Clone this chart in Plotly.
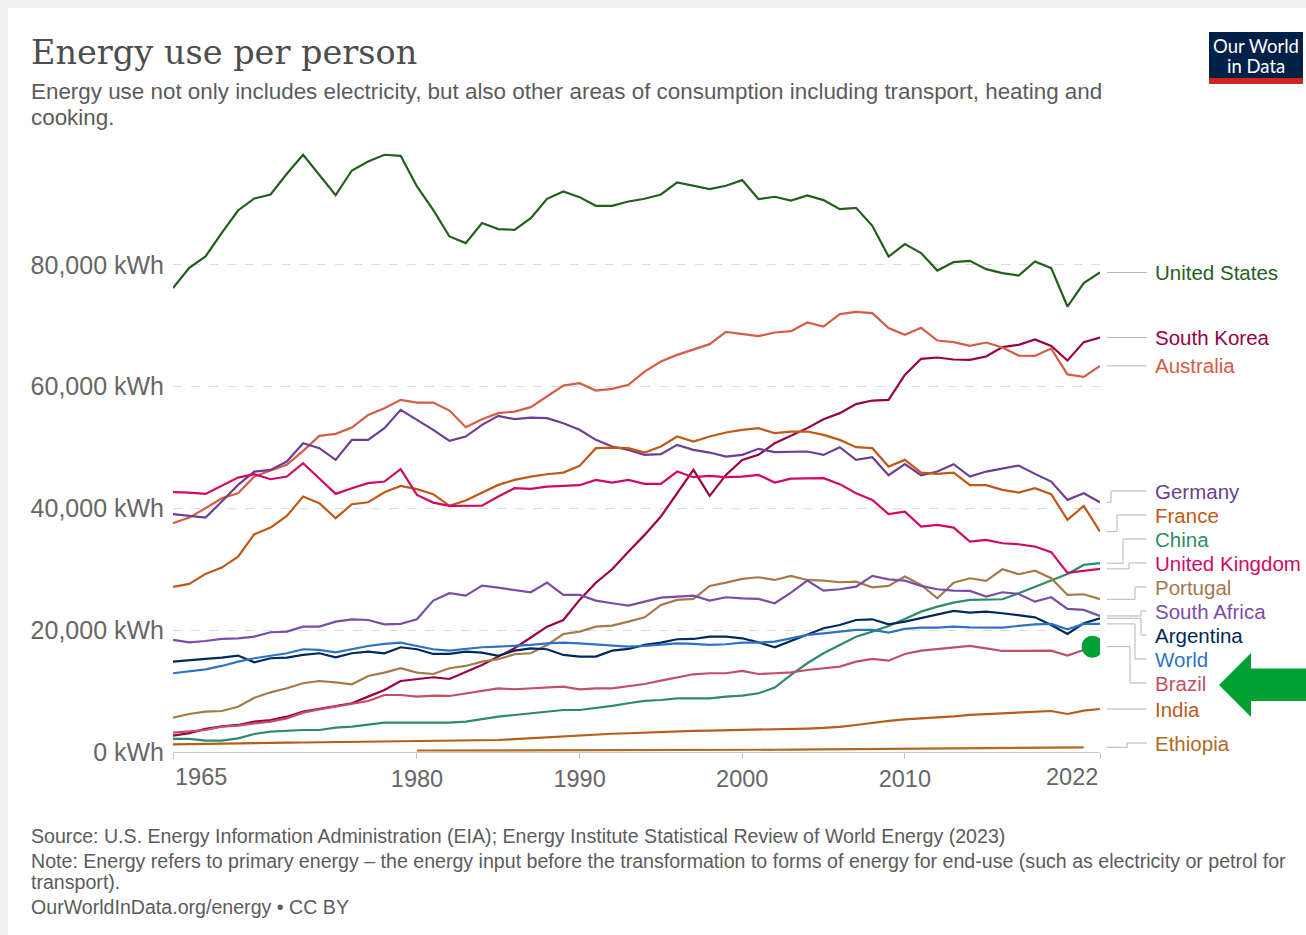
import plotly.graph_objects as go

# ---------------- data (kWh per person) ----------------
years = list(range(1965, 2023))

united_states = [76170, 79500, 81370, 85260, 88920, 90890, 91550, 94950, 98070, 94790,
                 91450, 95490, 96970, 98070, 97900, 92860, 89030, 84650, 83560, 86850,
                 85860, 85750, 87670, 90840, 92040, 91110, 89690, 89690, 90400, 90840,
                 91550, 93520, 93030, 92430, 92980, 93910, 90790, 91170, 90560, 91390,
                 90620, 89140, 89360, 86400, 81360, 83400, 81920, 79060, 80440, 80650,
                 79290, 78630, 78240, 80540, 79450, 73150, 76990, 78740]

south_korea = [2680, 3100, 3800, 4200, 4440, 4980, 5260, 5800, 6620, 7060,
               7560, 8000, 9090, 10190, 11660, 11990, 12270, 11990, 13090, 14290,
               15660, 17030, 18800, 20590, 21680, 24970, 27800, 30010, 32900, 35650,
               38660, 42500, 46330, 42060, 45500, 47970, 48790, 50710, 51970, 53180,
               54650, 55640, 57120, 57710, 57830, 61930, 64560, 64780, 64450, 64390,
               64940, 66480, 66860, 67730, 66690, 64280, 67300, 68060]

australia = [37570, 38490, 40030, 41670, 42500, 45230, 46210, 47150, 49450, 51910,
             52240, 53270, 55360, 56460, 57820, 57380, 57380, 56070, 53340, 54650,
             55640, 55900, 56620, 58370, 60170, 60560, 59350, 59630, 60290, 62470,
             64110, 65210, 66030, 66970, 68990, 68610, 68280, 68880, 69100, 70520,
             69860, 71900, 72280, 72060, 69600, 68500, 69650, 67570, 67300, 66690,
             67240, 66420, 65100, 65050, 66250, 62000, 61600, 63400]

germany = [39050, 38820, 38490, 41120, 43860, 46050, 46320, 47690, 50710, 49890,
           47970, 51250, 51250, 53180, 56180, 54540, 52900, 51090, 51800, 53720,
           55190, 54650, 54920, 54810, 53990, 52900, 51250, 50160, 49610, 48790,
           48900, 50430, 49610, 49170, 48510, 48790, 49780, 49230, 49230, 49340,
           48790, 50050, 47970, 48400, 45450, 47260, 45450, 46050, 47260, 45230,
           46050, 46600, 47040, 45670, 44410, 41400, 42500, 41010]

france = [27100, 27600, 29240, 30280, 32080, 35760, 36850, 38770, 41940, 40850,
          38390, 40690, 41010, 42660, 43700, 43160, 42330, 40410, 41280, 42600,
          43860, 44680, 45230, 45610, 45880, 46980, 49890, 49990, 49890, 49170,
          50160, 51800, 50980, 51800, 52460, 52900, 53180, 52350, 52620, 52620,
          52080, 51250, 50050, 49890, 46870, 47970, 45880, 45670, 45880, 43810,
          43810, 43040, 42600, 43320, 42330, 38110, 40410, 36190]

china = [2140, 2140, 1860, 1860, 2250, 2960, 3340, 3500, 3610, 3610,
         4000, 4160, 4440, 4820, 4820, 4820, 4710, 4820, 4980, 5420,
         5800, 6080, 6350, 6620, 6900, 6900, 7180, 7560, 8000, 8380,
         8540, 8820, 8820, 8820, 9090, 9250, 9640, 10570, 12650, 14570,
         16210, 17580, 18940, 19760, 20700, 21850, 23050, 23870, 24530, 24970,
         25080, 25080, 26070, 27160, 28250, 29240, 30720, 31000]

united_kingdom = [42660, 42600, 42380, 43700, 45060, 45610, 44790, 45230, 47420, 44900,
                  42380, 43320, 44140, 44410, 46440, 42220, 40950, 40410, 40460, 40460,
                  41940, 43320, 43210, 43590, 43700, 43810, 44680, 44240, 44680, 44020,
                  44020, 46050, 45120, 45340, 45120, 45230, 45500, 44240, 44900, 44960,
                  44960, 43980, 42500, 41400, 39050, 39480, 37010, 37290, 36850, 34550,
                  34830, 34280, 34110, 33730, 32810, 29400, 29730, 30060]

portugal = [5640, 6240, 6620, 6730, 7440, 8920, 9800, 10460, 11290, 11660,
            11440, 11120, 12480, 13030, 13750, 13030, 12810, 13750, 14130, 14840,
            15230, 16050, 16210, 17580, 19380, 19760, 20580, 20750, 21410, 22120,
            24150, 24970, 25130, 27270, 27810, 28420, 28690, 28250, 28910, 28250,
            28140, 27870, 27980, 27050, 27270, 28800, 27430, 25240, 27810, 28530,
            28090, 30010, 29190, 29780, 28530, 25790, 25900, 25080]

south_africa = [18400, 18010, 18230, 18560, 18670, 18940, 19660, 19760, 20580, 20580,
                21410, 21790, 21680, 20970, 21030, 21790, 24860, 26070, 25680, 27320,
                26990, 26610, 26230, 27810, 25790, 25790, 24860, 24420, 24040, 24690,
                25350, 25510, 25680, 24860, 25410, 25240, 25130, 24420, 26170, 28140,
                26500, 26720, 27160, 28910, 28360, 28140, 27270, 26720, 26500, 26450,
                25510, 26230, 25950, 24690, 25410, 23490, 23330, 22340]

argentina = [14840, 15120, 15280, 15500, 15830, 14730, 15390, 15500, 15940, 16210,
             15550, 16210, 16480, 16210, 17200, 16870, 16100, 16100, 16480, 16310,
             15800, 16640, 17030, 16870, 15940, 15660, 15660, 16640, 16920, 17580,
             17960, 18510, 18560, 18940, 18940, 18670, 18010, 17200, 18230, 19220,
             20320, 20860, 21680, 21790, 20970, 21410, 21960, 22500, 23160, 22880,
             23050, 22780, 22500, 22120, 20860, 19380, 21140, 21960]

world = [12930, 13310, 13580, 14130, 14840, 15390, 15770, 16210, 16870, 16760,
         16370, 16920, 17410, 17740, 17960, 17410, 16870, 16640, 16870, 17200,
         17300, 17410, 17600, 17850, 17960, 17850, 17690, 17410, 17300, 17410,
         17690, 17850, 17740, 17580, 17690, 17960, 17960, 18120, 18670, 19220,
         19490, 19760, 20040, 20040, 19600, 20210, 20420, 20420, 20580, 20480,
         20420, 20420, 20700, 20970, 21030, 20150, 21030, 21030]

brazil = [3170, 3340, 3610, 4160, 4330, 4710, 4980, 5530, 6460, 7010,
          7440, 7890, 8380, 9360, 9360, 9090, 9250, 9200, 9640, 10020,
          10460, 10300, 10460, 10570, 10730, 10300, 10460, 10460, 10840, 11170,
          11710, 12270, 12760, 12930, 12930, 13310, 12810, 12930, 13090, 13470,
          13750, 14020, 14840, 15280, 15000, 16100, 16640, 16920, 17200, 17410,
          17030, 16590, 16590, 16590, 16640, 15820, 16750, 17300]

india = [1260, 1280, 1310, 1350, 1400, 1420, 1440, 1530, 1560, 1590,
         1640, 1650, 1680, 1690, 1720, 1700, 1760, 1820, 1880, 1920,
         1970, 2100, 2250, 2400, 2600, 2790, 2900, 3000, 3080, 3200,
         3340, 3400, 3480, 3520, 3580, 3610, 3620, 3650, 3700, 3850,
         3950, 4120, 4430, 4820, 5100, 5370, 5500, 5700, 5850, 6080,
         6200, 6350, 6480, 6620, 6730, 6240, 6790, 7060]

ethiopia_years = list(range(1980, 2022))
ethiopia = [250, 250, 260, 270, 280, 280, 290, 300, 300, 300,
            310, 300, 290, 300, 300, 310, 320, 330, 330, 340,
            350, 360, 370, 380, 400, 410, 420, 440, 450, 460,
            480, 510, 540, 570, 600, 630, 660, 700, 720, 740,
            760, 770]

y_tick_vals = [0, 20000, 40000, 60000, 80000]
y_tick_text = ["0 kWh", "20,000 kWh", "40,000 kWh", "60,000 kWh", "80,000 kWh"]
x_tick_vals = [1965, 1980, 1990, 2000, 2010, 2022]
x_tick_text = ["1965", "1980", "1990", "2000", "2010", "2022"]

# ---------------- styling / layout ----------------
W, H = 1306, 935
PLOT_LEFT, PLOT_RIGHT, PLOT_TOP, PLOT_BOTTOM = 173, 1100, 143, 752  # page px
L = PLOT_LEFT
T = PLOT_TOP
R = W - PLOT_RIGHT
B = H - PLOT_BOTTOM
PW = PLOT_RIGHT - PLOT_LEFT
PH = PLOT_BOTTOM - PLOT_TOP
YMAX = 100000


def px2x(px):
    return (px - PLOT_LEFT) / PW


def py2y(py):
    return (PLOT_BOTTOM - py) / PH


def py2val(py):
    return (PLOT_BOTTOM - py) / PH * YMAX


SANS = "Liberation Sans, Arial, sans-serif"
GREY_TXT = "#5b5b5b"

series = [
    # name, x, y, colour, label page-y, elbow page-x
    ("United States", years, united_states, "#245e1f", None, None),
    ("South Korea", years, south_korea, "#970046", None, None),
    ("Australia", years, australia, "#d35d45", None, None),
    ("Germany", years, germany, "#6D3E91", 491, 1111),
    ("France", years, france, "#C05917", 515, 1117),
    ("China", years, china, "#2e8b67", 539, 1123),
    ("United Kingdom", years, united_kingdom, "#CF0A66", 563, 1129),
    ("Portugal", years, portugal, "#a57a48", 587, 1135),
    ("South Africa", years, south_africa, "#7C4DA6", 611, 1141),
    ("Argentina", years, argentina, "#00295B", 635, 1141),
    ("World", years, world, "#2f72c4", 659, 1135),
    ("Brazil", years, brazil, "#C15065", 683, 1130),
    ("India", years, india, "#B85C1A", None, None),
    ("Ethiopia", ethiopia_years, ethiopia, "#B06A22", 743, 1127),
]

fig = go.Figure()
for name, xs, ys, col, _, _ in series:
    fig.add_trace(go.Scatter(x=xs, y=ys, mode="lines", name=name,
                             line=dict(color=col, width=2.2), hoverinfo="skip",
                             showlegend=False))

shapes = []
annotations = []

# light grey page frame (top and left edges)
shapes.append(dict(type="rect", xref="paper", yref="paper", layer="below",
                   x0=px2x(0), x1=px2x(W), y0=py2y(8), y1=py2y(0),
                   fillcolor="#f0f0f0", line=dict(width=0)))
shapes.append(dict(type="rect", xref="paper", yref="paper", layer="below",
                   x0=px2x(0), x1=px2x(8), y0=py2y(H), y1=py2y(0),
                   fillcolor="#f0f0f0", line=dict(width=0)))

# labels + connectors
for name, xs, ys, col, lab_py, elbow in series:
    end_val = ys[-1]
    lab_val = end_val if lab_py is None else py2val(lab_py)
    if lab_py is None:
        path = f"M {px2x(1107)},{end_val} L {px2x(1147)},{end_val}"
    else:
        ex = px2x(elbow)
        path = (f"M {px2x(1107)},{end_val} L {ex},{end_val} "
                f"L {ex},{lab_val} L {px2x(1147)},{lab_val}")
    shapes.append(dict(type="path", xref="paper", yref="y", path=path,
                       line=dict(color="#b5b5b5", width=1)))
    annotations.append(dict(x=px2x(1153), y=lab_val, xref="paper", yref="y",
                            text=name, showarrow=False, xanchor="left",
                            yanchor="middle", font=dict(family=SANS, size=20.5, color=col)))

# highlight dot on Brazil and arrow
shapes.append(dict(type="circle", xref="x", yref="y", xsizemode="pixel", ysizemode="pixel",
                   xanchor=2021.55, yanchor=brazil[-1], x0=-11, x1=11, y0=-11, y1=11,
                   fillcolor="#01a032", line=dict(width=0)))
arrow_pts = [(1219, 685), (1251, 653), (1251, 668.5), (1306, 668.5),
             (1306, 701), (1251, 701), (1251, 717)]
arrow_path = "M " + " L ".join(f"{px2x(a)},{py2y(b)}" for a, b in arrow_pts) + " Z"
shapes.append(dict(type="path", xref="paper", yref="paper", path=arrow_path,
                   fillcolor="#01a032", line=dict(width=0)))

# logo
shapes.append(dict(type="rect", xref="paper", yref="paper",
                   x0=px2x(1209), x1=px2x(1303), y0=py2y(78), y1=py2y(32),
                   fillcolor="#002147", line=dict(width=0)))
shapes.append(dict(type="rect", xref="paper", yref="paper",
                   x0=px2x(1209), x1=px2x(1303), y0=py2y(84), y1=py2y(78),
                   fillcolor="#ce261e", line=dict(width=0)))
annotations.append(dict(x=px2x(1256), y=py2y(46), xref="paper", yref="paper",
                        text="Our World", showarrow=False, xanchor="center", yanchor="middle",
                        font=dict(family="Lato, sans-serif", size=18.5, color="white")))
annotations.append(dict(x=px2x(1256), y=py2y(66), xref="paper", yref="paper",
                        text="in Data", showarrow=False, xanchor="center", yanchor="middle",
                        font=dict(family="Lato, sans-serif", size=18.5, color="white")))


# title / subtitle / footer
def text_line(txt, px, py, size, color, family=SANS, anchor="left"):
    annotations.append(dict(x=px2x(px), y=py2y(py), xref="paper", yref="paper",
                            text=txt, showarrow=False, xanchor=anchor, yanchor="middle",
                            font=dict(family=family, size=size, color=color)))


text_line("Energy use per person", 29, 52, 33.5, "#4d4d4d", family="DejaVu Serif, serif")
text_line("Energy use not only includes electricity, but also other areas of consumption "
          "including transport, heating and", 29, 91, 22.4, GREY_TXT)
text_line("cooking.", 29, 117, 22.4, GREY_TXT)
text_line("Source: U.S. Energy Information Administration (EIA); Energy Institute Statistical "
          "Review of World Energy (2023)", 29, 836, 19.6, GREY_TXT)
text_line("Note: Energy refers to primary energy – the energy input before the transformation "
          "to forms of energy for end-use (such as electricity or petrol for", 29, 861, 19.6, GREY_TXT)
text_line("transport).", 29, 882, 19.6, GREY_TXT)
text_line("OurWorldInData.org/energy • CC BY", 29, 907, 19.6, GREY_TXT)

# edge x tick labels
annotations.append(dict(x=x_tick_vals[0], y=py2y(777), xref="x", yref="paper",
                        text=x_tick_text[0], showarrow=False, xanchor="left", yanchor="middle",
                        font=dict(family=SANS, size=23.5, color="#666666")))
annotations.append(dict(x=x_tick_vals[-1], y=py2y(777), xref="x", yref="paper",
                        text=x_tick_text[-1], showarrow=False, xanchor="right", yanchor="middle",
                        font=dict(family=SANS, size=23.5, color="#666666")))

fig.update_layout(
    width=W, height=H,
    margin=dict(l=L, r=R, t=T, b=B, pad=0),
    paper_bgcolor="white", plot_bgcolor="white",
    shapes=shapes, annotations=annotations,
    hovermode=False,
    xaxis=dict(range=[1965, 2022], tickmode="array", tickvals=x_tick_vals,
               ticktext=[""] + x_tick_text[1:-1] + [""],
               showgrid=False, zeroline=False, showline=True, linecolor="#c8c8c8",
               linewidth=1, ticks="outside", ticklen=6, tickcolor="#c8c8c8",
               tickfont=dict(family=SANS, size=23.5, color="#666666")),
    yaxis=dict(range=[0, YMAX], tickmode="array", tickvals=y_tick_vals, ticktext=y_tick_text,
               showgrid=True, gridcolor="#dddddd", griddash="dash", gridwidth=1,
               zeroline=False, showline=False, ticks="", ticklabelstandoff=8,
               tickfont=dict(family=SANS, size=25, color="#666666")),
)

# remove the browser's default 8px page margin so the figure fills the window exactly,
# and hide the mode bar
fig.write_html("out.html", config={"displayModeBar": False},
               post_script="document.body.style.margin='0';")
